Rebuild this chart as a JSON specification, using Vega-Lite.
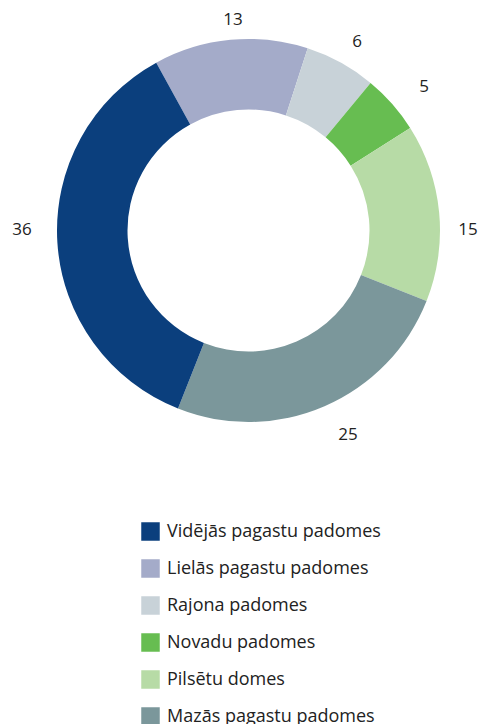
{
  "$schema": "https://vega.github.io/schema/vega-lite/v6.json",
  "autosize": {"type": "none"},
  "width": 461,
  "height": 461,
  "padding": {"left": 18, "top": 0, "right": 1, "bottom": 263},
  "background": "white",
  "config": {"view": {"stroke": null}, "font": "Open Sans"},
  "data": {
    "values": [
      {"category": "Lielās pagastu padomes", "value": 13, "o": 1},
      {"category": "Rajona padomes", "value": 6, "o": 2},
      {"category": "Novadu padomes", "value": 5, "o": 3},
      {"category": "Pilsētu domes", "value": 15, "o": 4},
      {"category": "Mazās pagastu padomes", "value": 25, "o": 5},
      {"category": "Vidējās pagastu padomes", "value": 36, "o": 6}
    ]
  },
  "encoding": {
    "theta": {"field": "value", "type": "quantitative", "stack": true, "scale": {"range": [-0.50265, 5.78053]}},
    "order": {"field": "o", "type": "quantitative"}
  },
  "layer": [
    {
      "mark": {"type": "arc", "radius": 191.5, "innerRadius": 121},
      "encoding": {
        "color": {
          "field": "category",
          "type": "nominal",
          "scale": {
            "domain": ["Vidējās pagastu padomes", "Lielās pagastu padomes", "Rajona padomes", "Novadu padomes", "Pilsētu domes", "Mazās pagastu padomes"],
            "range": ["#0b3f7d", "#a4abc9", "#c8d2d8", "#67bd51", "#b7dba6", "#7b979b"]
          },
          "legend": {
            "title": null,
            "orient": "none",
            "legendX": 123,
            "legendY": 522,
            "direction": "vertical",
            "symbolType": "square",
            "symbolSize": 342,
            "symbolStrokeWidth": 0,
            "labelFontSize": 18,
            "labelColor": "#222222",
            "labelFont": "Open Sans",
            "labelOffset": 7,
            "labelLimit": 400,
            "rowPadding": 18,
            "padding": 0
          }
        }
      }
    },
    {
      "mark": {
        "type": "text",
        "radius": 218,
        "dx": {"expr": "datum.o == 1 ? 5 : datum.o == 2 ? 3.5 : datum.o == 3 ? 12 : datum.o == 4 ? 2.5 : datum.o == 5 ? 13 : -9"},
        "dy": {"expr": "datum.o == 1 ? 7 : datum.o == 2 ? 3 : datum.o == 3 ? 1 : datum.o == 4 ? 20 : datum.o == 5 ? 4.5 : -14"},
        "fontSize": 17,
        "color": "#222222",
        "font": "Open Sans",
        "align": "center",
        "baseline": "middle"
      },
      "encoding": {"text": {"field": "value", "type": "quantitative"}}
    }
  ]
}
